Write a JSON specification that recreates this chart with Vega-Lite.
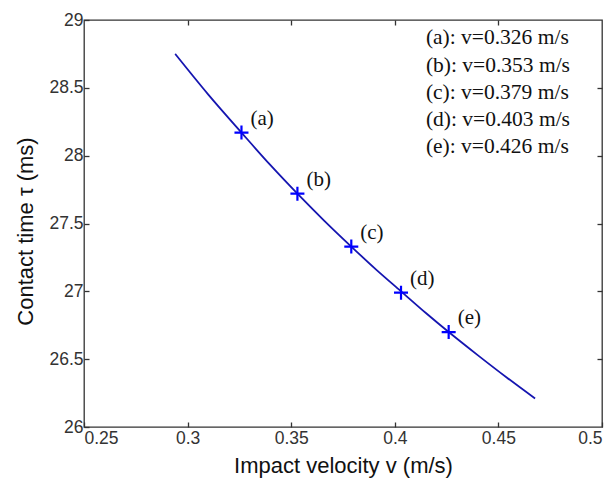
{
  "$schema": "https://vega.github.io/schema/vega-lite/v6.json",
  "width": 518,
  "height": 407,
  "autosize": {"type": "none"},
  "padding": {"left": 84, "top": 20, "right": 14, "bottom": 51},
  "background": "white",
  "config": {
    "view": {"stroke": "#333333", "strokeWidth": 1.3},
    "axis": {"domain": false, "grid": false, "tickColor": "#333333", "tickSize": -5, "tickWidth": 1.3,
             "labelFont": "Liberation Sans", "labelFontSize": 17.5, "labelColor": "#333333",
             "titleFont": "Liberation Sans", "titleFontSize": 22, "titleFontWeight": "normal", "titleColor": "#111111"}
  },
  "datasets": {
    "curve": [
      {"v": 0.294, "t": 28.75},
      {"v": 0.31, "t": 28.45},
      {"v": 0.326, "t": 28.17},
      {"v": 0.34, "t": 27.93},
      {"v": 0.353, "t": 27.72},
      {"v": 0.366, "t": 27.52},
      {"v": 0.379, "t": 27.33},
      {"v": 0.391, "t": 27.16},
      {"v": 0.403, "t": 27.0},
      {"v": 0.415, "t": 26.84},
      {"v": 0.426, "t": 26.7},
      {"v": 0.44, "t": 26.53},
      {"v": 0.454, "t": 26.365},
      {"v": 0.4677, "t": 26.21}
    ],
    "markers": [
      {"v": 0.326, "t": 28.17, "label": "(a)"},
      {"v": 0.353, "t": 27.72, "label": "(b)"},
      {"v": 0.379, "t": 27.33, "label": "(c)"},
      {"v": 0.403, "t": 26.99, "label": "(d)"},
      {"v": 0.426, "t": 26.7, "label": "(e)"}
    ],
    "legend": [
      {"lines": "legend"}
    ]
  },
  "layer": [
    {
      "data": {"name": "curve"},
      "mark": {"type": "line", "color": "#1515b0", "strokeWidth": 1.8, "interpolate": "monotone", "clip": true},
      "encoding": {
        "x": {"field": "v", "type": "quantitative", "scale": {"domain": [0.25, 0.5], "nice": false, "zero": false},
              "axis": {"orient": "bottom", "values": [0.25, 0.3, 0.35, 0.4, 0.45, 0.5], "format": "~g", "labelPadding": 7,
                       "title": "Impact velocity v (m/s)", "titleX": 259, "titleY": 38, "titleBaseline": "middle", "titleAnchor": "middle"}},
        "y": {"field": "t", "type": "quantitative", "scale": {"domain": [26, 29], "nice": false, "zero": false},
              "axis": {"orient": "left", "values": [26, 26.5, 27, 27.5, 28, 28.5, 29], "format": "~g", "labelPadding": 6,
                       "title": "Contact time τ (ms)", "titleX": -59, "titleY": 211, "titleBaseline": "middle", "titleAngle": -90, "titleAlign": "center"}}
      }
    },
    {
      "data": {"name": "markers"},
      "mark": {"type": "point", "shape": "M-1,0H1M0,-1V1", "size": 196, "stroke": "#0000ff", "strokeWidth": 2.2, "filled": false, "opacity": 1},
      "encoding": {
        "x": {"field": "v", "type": "quantitative",
              "axis": {"orient": "top", "values": [0.3, 0.35, 0.4, 0.45], "labels": false, "title": null}},
        "y": {"field": "t", "type": "quantitative",
              "axis": {"orient": "right", "values": [26.5, 27, 27.5, 28, 28.5], "labels": false, "title": null}}
      }
    },
    {
      "data": {"name": "markers"},
      "mark": {"type": "text", "align": "left", "baseline": "middle", "dx": 9, "dy": -14, "font": "Liberation Serif", "fontSize": 21, "color": "#111111"},
      "encoding": {
        "x": {"field": "v", "type": "quantitative", "axis": null},
        "y": {"field": "t", "type": "quantitative", "axis": null},
        "text": {"field": "label"}
      }
    },
    {
      "data": {"name": "legend"},
      "mark": {"type": "text", "align": "left", "baseline": "top", "font": "Liberation Serif", "fontSize": 21.5, "lineHeight": 27.2, "color": "#111111",
               "text": ["(a): v=0.326 m/s", "(b): v=0.353 m/s", "(c): v=0.379 m/s", "(d): v=0.403 m/s", "(e): v=0.426 m/s"]},
      "encoding": {
        "x": {"datum": 0.415, "type": "quantitative", "axis": null},
        "y": {"datum": 28.945, "type": "quantitative", "axis": null}
      }
    }
  ],
  "resolve": {"axis": {"x": "independent", "y": "independent"}}
}
